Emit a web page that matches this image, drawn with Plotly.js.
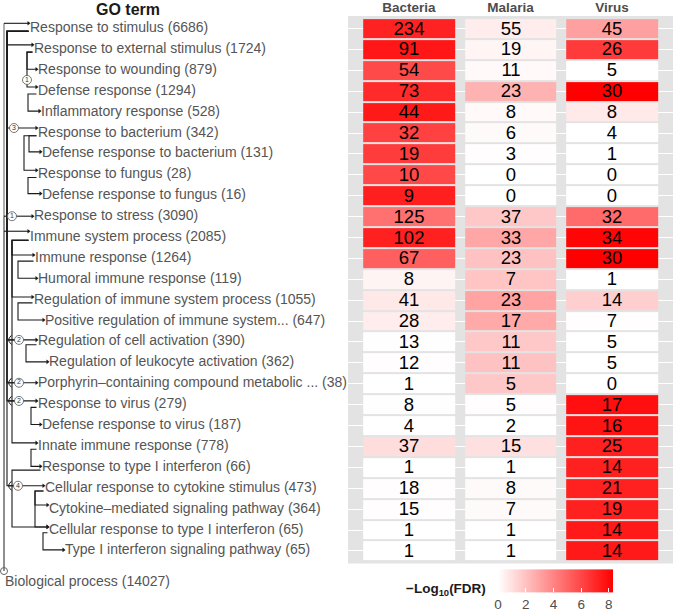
<!DOCTYPE html>
<html>
<head>
<meta charset="utf-8">
<script src="https://cdn.plot.ly/plotly-3.0.1.min.js"></script>
<style>
html,body{margin:0;padding:0;background:#fff;}
#chart{width:674px;height:613px;}
</style>
</head>
<body>
<div id="chart"></div>
<script>
// ---------------- data ----------------
const columns = ['Bacteria', 'Malaria', 'Virus'];

const goTerms = [
  'Response to stimulus (6686)',
  'Response to external stimulus (1724)',
  'Response to wounding (879)',
  'Defense response (1294)',
  'Inflammatory response (528)',
  'Response to bacterium (342)',
  'Defense response to bacterium (131)',
  'Response to fungus (28)',
  'Defense response to fungus (16)',
  'Response to stress (3090)',
  'Immune system process (2085)',
  'Immune response (1264)',
  'Humoral immune response (119)',
  'Regulation of immune system process (1055)',
  'Positive regulation of immune system... (647)',
  'Regulation of cell activation (390)',
  'Regulation of leukocyte activation (362)',
  'Porphyrin\u2013containing compound metabolic ... (38)',
  'Response to virus (279)',
  'Defense response to virus (187)',
  'Innate immune response (778)',
  'Response to type I interferon (66)',
  'Cellular response to cytokine stimulus (473)',
  'Cytokine\u2013mediated signaling pathway (364)',
  'Cellular response to type I interferon (65)',
  'Type I interferon signaling pathway (65)'
];
const rootTerm = 'Biological process (14027)';

// indentation of each term label in the tree
const termX = [30, 34, 38, 38, 41, 38, 42, 38, 42, 34, 30, 35, 38, 34, 45, 38, 49, 38, 38, 42, 38, 42, 45, 49, 49, 65];

// gene counts shown in the cells
const countBacteria = [234, 91, 54, 73, 44, 32, 19, 10, 9, 125, 102, 67, 8, 41, 28, 13, 12, 1, 8, 4, 37, 1, 18, 15, 1, 1];
const countMalaria  = [55, 19, 11, 23, 8, 6, 3, 0, 0, 37, 33, 23, 7, 23, 17, 11, 11, 5, 5, 2, 15, 1, 8, 7, 1, 1];
const countVirus    = [45, 26, 5, 30, 8, 4, 1, 0, 0, 32, 34, 30, 1, 14, 7, 5, 5, 0, 17, 16, 25, 14, 21, 19, 14, 14];

// -log10(FDR) (fill colour)
const fdrBacteria = [7.2, 7.6, 5.9, 6.9, 7.45, 6.2, 6.35, 5.95, 7.3, 4.65, 7.25, 5.2, 0.36, 0.75, 0.62, 0.02, 0.05, 0, 0.02, 0, 1.1, 0, 0.05, 0.05, 0, 0];
const fdrMalaria  = [0.62, 0.33, 0.2, 2.5, 0.2, 0.15, 0.05, 0, 0, 1.8, 2.9, 2.0, 1.9, 3.0, 2.8, 1.8, 2.0, 1.8, 0.05, 0, 1.0, 0, 0.15, 0.15, 0, 0];
const fdrVirus    = [3.1, 6.4, 0, 8.3, 0.7, 0, 0, 0, 0, 4.85, 8.15, 8.3, 0, 1.6, 0.05, 0, 0, 0, 7.8, 7.65, 7.25, 7.25, 7.25, 7.25, 7.5, 7.5];

const colorTicks = [0, 2, 4, 6, 8];

// tree: [parent row (-1 = root), child row, connector x, arrow offset]
const treeEdges = [
  [-1, 0, 4, -0.25], [-1, 9, 4, -0.02], [-1, 10, 4, -0.3],
  [0, 1, 7, -0.22], [0, 5, 7, -0.24], [0, 15, 7, -0.1], [0, 17, 7, -0.05], [0, 18, 7, -0.18], [0, 22, 7, -0.12],
  [1, 2, 27, -0.05], [1, 3, 27, -0.2], [3, 4, 28, -0.05],
  [5, 6, 29, -0.1], [5, 7, 24, -0.22], [7, 8, 28, -0.1],
  [10, 11, 12, -0.16], [10, 13, 12, -0.15], [10, 20, 12, -0.17],
  [11, 12, 18, -0.05], [13, 14, 18, -0.05], [15, 16, 26, -0.05],
  [18, 19, 31, -0.05], [20, 21, 31, -0.05],
  [21, 24, 12, -0.15], [22, 23, 35, -0.2], [22, 24, 35, -0.15], [24, 25, 43, -0.05]
];
// merge markers: [x, row, number of merged paths]
const mergeX = [27, 14, 12, 19, 19, 19, 18];
const mergeRow = [2.46, 4.76, 8.98, 14.9, 16.95, 17.82, 21.88];
const mergeN = ['1', '3', '1', '2', '2', '2', '4'];
const rootX = 4, rootRow = 25.96, rootLabelRow = 26.53;

// ---------------- build ----------------
const W = 674, H = 613;
const panelTop = 16, panelBottom = 563.5, panelLeft = 348, panelRight = 673;
const rowPx = (panelBottom - panelTop) / 26.2;
const y2top = -0.6 - panelTop / rowPx;
const y2bot = 25.6 + (H - panelBottom) / rowPx;

const rowsIdx = goTerms.map((_, i) => i);
const z = rowsIdx.map(i => [fdrBacteria[i], fdrMalaria[i], fdrVirus[i]]);
const txt = rowsIdx.map(i => [countBacteria[i], countMalaria[i], countVirus[i]]);

const FONT = 'Liberation Sans, Arial, Helvetica, sans-serif';

const blackX = [], blackY = [], grayX = [], grayY = [], arrX = [], arrY = [];
treeEdges.forEach(([p, c, vx, dy]) => {
  const tx = termX[c] - 1.5, ty = c + dy;
  if (p < 0) {
    grayX.push(rootX, rootX, null); grayY.push(rootRow, ty, null);
    blackX.push(rootX, tx, null); blackY.push(ty, ty, null);
  } else {
    const sx = termX[p] - 1.5, sy = p + 0.13;
    blackX.push(sx, vx, vx, tx, null); blackY.push(sy, sy, ty, ty, null);
  }
  arrX.push(tx); arrY.push(ty);
});
// small brackets where paths merge
const brX = [], brY = [];
mergeRow.forEach((r, i) => {
  if (mergeN[i] === '2' || mergeN[i] === '4') {
    brX.push(11.5, 8.5, 11.5, null); brY.push(r - 0.22, r, r + 0.22, null);
    blackX.push(8.5, mergeX[i], null); blackY.push(r, r, null);
  }
});

const traces = [];

traces.push({
  type: 'heatmap', x: [0, 1, 2], y: rowsIdx, z: z,
  text: txt, texttemplate: '%{text}',
  textfont: {family: FONT, size: 18.5, color: '#000'},
  zmin: 0, zmax: 8.3,
  colorscale: [[0, '#FFFFFF'], [1, '#FF0000']],
  xgap: 10, ygap: 2, hoverinfo: 'skip',
  colorbar: {
    orientation: 'h', x: 555.5 / W, xanchor: 'center', y: 1 - 592.5 / H, yanchor: 'middle',
    len: 115, lenmode: 'pixels', thickness: 23, thicknessmode: 'pixels',
    tickvals: colorTicks, ticks: 'inside', tickcolor: '#ffffff', ticklen: 4,
    tickfont: {family: FONT, size: 13.5, color: '#4d4d4d'},
    outlinewidth: 0, xpad: 0, ypad: 0
  }
});

traces.push({type: 'scatter', mode: 'lines', x: grayX, y: grayY, xaxis: 'x2', yaxis: 'y2',
  line: {color: '#8c8c8c', width: 1.4}, hoverinfo: 'skip', cliponaxis: false, showlegend: false});
traces.push({type: 'scatter', mode: 'lines', x: blackX, y: blackY, xaxis: 'x2', yaxis: 'y2',
  line: {color: '#1a1a1a', width: 1.1}, hoverinfo: 'skip', cliponaxis: false, showlegend: false});
traces.push({type: 'scatter', mode: 'lines', x: brX, y: brY, xaxis: 'x2', yaxis: 'y2',
  line: {color: '#1a1a1a', width: 1, shape: 'spline'}, hoverinfo: 'skip', cliponaxis: false, showlegend: false});
traces.push({type: 'scatter', mode: 'markers', x: arrX, y: arrY, xaxis: 'x2', yaxis: 'y2',
  marker: {symbol: 'triangle-right', size: 4, color: '#1a1a1a'}, hoverinfo: 'skip', cliponaxis: false, showlegend: false});
traces.push({type: 'scatter', mode: 'markers+text', x: mergeX, y: mergeRow, text: mergeN, xaxis: 'x2', yaxis: 'y2',
  marker: {symbol: 'circle', size: 9, color: '#ffffff', line: {color: '#555', width: 0.8}},
  textposition: 'middle center', textfont: {family: FONT, size: 7, color: '#333'},
  hoverinfo: 'skip', cliponaxis: false, showlegend: false});
traces.push({type: 'scatter', mode: 'markers', x: [rootX], y: [rootRow], xaxis: 'x2', yaxis: 'y2',
  marker: {symbol: 'circle-open', size: 7, color: '#666', line: {width: 1}}, hoverinfo: 'skip', cliponaxis: false, showlegend: false});
traces.push({type: 'scatter', mode: 'text', x: termX.concat([5]), y: rowsIdx.concat([rootLabelRow]),
  text: goTerms.concat([rootTerm]), xaxis: 'x2', yaxis: 'y2',
  textposition: 'middle right', textfont: {family: FONT, size: 14, color: '#555555'},
  hoverinfo: 'skip', cliponaxis: false, showlegend: false});

const layout = {
  width: W, height: H,
  margin: {l: 0, r: 0, t: 0, b: 0, autoexpand: false},
  paper_bgcolor: '#ffffff', plot_bgcolor: 'rgba(0,0,0,0)',
  showlegend: false,
  font: {family: FONT},
  xaxis: {
    domain: [panelLeft / W, panelRight / W], range: [-0.6, 2.6], anchor: 'y',
    side: 'top', tickvals: [0, 1, 2], ticktext: columns.map(c => '<b>' + c + '</b>'),
    tickfont: {family: FONT, size: 13.5, color: '#4d4d4d'},
    ticks: '', showgrid: false, zeroline: false, showline: false, fixedrange: true
  },
  yaxis: {
    domain: [1 - panelBottom / H, 1 - panelTop / H], range: [25.6, -0.6], anchor: 'x',
    tickvals: rowsIdx, showticklabels: false, ticks: '',
    showgrid: true, gridcolor: '#ffffff', gridwidth: 1, zeroline: false, showline: false, fixedrange: true
  },
  xaxis2: {domain: [0, panelLeft / W], range: [0, panelLeft], anchor: 'y2', visible: false, fixedrange: true},
  yaxis2: {domain: [0, 1], range: [y2bot, y2top], anchor: 'x2', visible: false, fixedrange: true},
  shapes: [{
    type: 'rect', xref: 'x domain', yref: 'y domain', x0: 0, x1: 1, y0: 0, y1: 1,
    fillcolor: '#e3e3e3', line: {width: 0}, layer: 'below'
  }],
  annotations: [
    {text: '<b>GO term</b>', xref: 'paper', yref: 'paper', x: 128 / W, y: 1 - 9 / H,
     xanchor: 'center', yanchor: 'middle', showarrow: false, font: {family: FONT, size: 16, color: '#1a1a1a'}},
    {text: '<b>\u2212Log<sub>10</sub>(FDR)</b>', xref: 'paper', yref: 'paper', x: 404 / W, y: 1 - 589 / H,
     xanchor: 'left', yanchor: 'middle', showarrow: false, font: {family: FONT, size: 13.5, color: '#1a1a1a'}}
  ]
};

Plotly.newPlot('chart', traces, layout, {staticPlot: true, displayModeBar: false});
</script>
</body>
</html>
